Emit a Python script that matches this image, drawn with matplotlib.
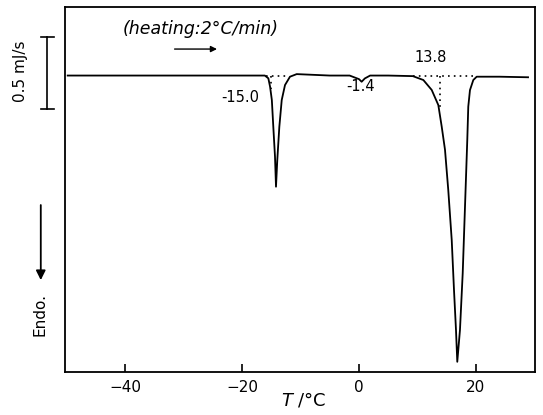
import numpy as np
import matplotlib
matplotlib.use('Agg')
import matplotlib.pyplot as plt


###### DSC heating trace (heat flow in mJ/s, endotherm downward)
T = [-49.8, -30.0, -17.0, -16.1, -15.5, -15.2, -14.9, -14.65, -14.36, -14.19,
     -13.97, -13.62, -13.21, -12.65, -11.8, -10.65, -5.0, -1.6, 0.0, 0.45,
     1.0, 1.9, 5.0, 9.2, 11.0, 12.43, 13.56, 14.14, 14.7, 15.26, 15.85,
     16.24, 16.58, 16.8, 17.26, 17.73, 18.12, 18.51, 18.68, 18.97, 19.54,
     20.12, 24.0, 28.9]
heat = [0.0, 0.0, 0.0, 0.0, -0.019, -0.078, -0.17, -0.356, -0.564, -0.772,
        -0.587, -0.356, -0.17, -0.066, -0.008, 0.01, 0.0, 0.0, -0.025, -0.043,
        -0.02, 0.0, 0.0, -0.004, -0.031, -0.1, -0.205, -0.355, -0.515, -0.795,
        -1.142, -1.49, -1.767, -1.988, -1.767, -1.372, -0.911, -0.448, -0.216,
        -0.101, -0.031, -0.008, -0.008, -0.012]

# onset temperatures of the transitions
onsets = [-15.0, -1.4, 13.8]
onset_labels = ['-15.0', '-1.4', '13.8']

xticks = [-40, -20, 0, 20]
bar_height = 0.5   # mJ/s scale bar


fig = plt.figure(figsize=[5.43, 4.15], dpi=100)
ax = fig.add_axes([0.1197, 0.1036, 0.8656, 0.8795])

ax.plot(T, heat, color='k', lw=1.3, solid_joinstyle='round')

# extrapolated baselines and onset marks
ax.plot([-15.9, -12.0], [0.0, 0.0], ls=(0, (1, 2.5)), color='k', lw=1.2)
ax.plot([onsets[0], onsets[0]], [0.0, -0.09], ls=(0, (1, 2.5)), color='k', lw=1.2)
ax.plot([9.2, 20.1], [-0.004, -0.004], ls=(0, (1, 2.5)), color='k', lw=1.2)
ax.plot([onsets[2], onsets[2]], [-0.004, -0.22], ls=(0, (1, 2.5)), color='k', lw=1.2)

ax.text(-20.3, -0.15, onset_labels[0], ha='center', va='center', fontsize=10.5)
ax.text(0.3, -0.075, onset_labels[1], ha='center', va='center', fontsize=10.5)
ax.text(12.3, 0.122, onset_labels[2], ha='center', va='center', fontsize=10.5)

# heating rate note
ax.text(-27.0, 0.32, '(heating:2°C/min)', ha='center', va='center',
        fontsize=12.5, style='italic')
ax.annotate('', xy=(-23.8, 0.184), xytext=(-32.0, 0.184),
            arrowprops=dict(arrowstyle='-|>', color='k', lw=1.0,
                            mutation_scale=9))

# scale bar and endotherm direction, left of the frame
ax.plot([-53.3, -53.3], [-0.23, -0.23 + bar_height], color='k', lw=1.2,
        clip_on=False)
for yy in [-0.23, -0.23 + bar_height]:
    ax.plot([-54.4, -52.2], [yy, yy], color='k', lw=1.2, clip_on=False)
ax.text(-57.9, 0.03, '0.5 mJ/s', rotation=90, ha='center', va='center',
        fontsize=11)
ax.annotate('', xy=(-54.4, -1.44), xytext=(-54.4, -0.88),
            arrowprops=dict(arrowstyle='-|>', color='k', lw=1.3,
                            mutation_scale=14),
            annotation_clip=False)
ax.text(-54.5, -1.66, 'Endo.', rotation=90, ha='center', va='center',
        fontsize=11)

ax.set_xlim(-50.26, 30.09)
ax.set_ylim(-2.059, 0.476)
ax.set_xticks(xticks)
ax.set_yticks([])
ax.tick_params(axis='x', direction='in', length=6, width=1.2, pad=6,
               labelsize=11, top=False)
for s in ax.spines.values():
    s.set_linewidth(1.3)

ax.text(0.46, -0.077, '$T$ /°C', transform=ax.transAxes, ha='left',
        va='center', fontsize=13)

fig.savefig('out.png', dpi=100)
